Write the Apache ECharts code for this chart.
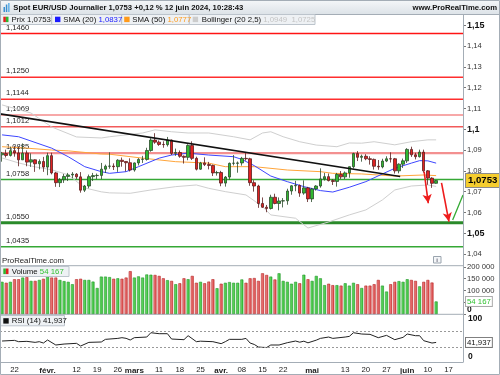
<!DOCTYPE html>
<html><head><meta charset="utf-8">
<script src="https://cdn.jsdelivr.net/npm/echarts@6/dist/echarts.min.js"></script>
<style>html,body{margin:0;padding:0;background:#fff}#c{width:500px;height:375px}</style>
</head><body><div id="c"></div>
<script>
// ---------- data ----------
const dates = ['01-17','01-18','01-19','01-22','01-23','01-24','01-25','01-26','01-29','01-30','01-31',
'02-01','02-02','02-05','02-06','02-07','02-08','02-09','02-12','02-13','02-14','02-15','02-16','02-19','02-20','02-21','02-22','02-23','02-26','02-27','02-28','02-29',
'03-01','03-04','03-05','03-06','03-07','03-08','03-11','03-12','03-13','03-14','03-15','03-18','03-19','03-20','03-21','03-22','03-25','03-26','03-27','03-28','03-29',
'04-01','04-02','04-03','04-04','04-05','04-08','04-09','04-10','04-11','04-12','04-15','04-16','04-17','04-18','04-19','04-22','04-23','04-24','04-25','04-26','04-29','04-30',
'05-01','05-02','05-03','05-06','05-07','05-08','05-09','05-10','05-13','05-14','05-15','05-16','05-17','05-20','05-21','05-22','05-23','05-24','05-27','05-28','05-29','05-30','05-31',
'06-03','06-04','06-05','06-06','06-07','06-10','06-11','06-12','06-13','06-14','06-17','06-18','06-19','06-20'];

const tickLabels = [['01-22','22'],['02-01','févr.'],['02-12','12'],['02-19','19'],['02-26','26'],['03-01','mars'],['03-11','11'],['03-18','18'],['03-25','25'],['04-01','avr.'],['04-08','08'],['04-15','15'],['04-22','22'],['05-01','mai'],['05-13','13'],['05-20','20'],['05-27','27'],['06-03','juin'],['06-10','10'],['06-17','17']];

// [open, close, low, high]
const ohlc = [
[1.0877,1.0885,1.0844,1.0891],[1.0883,1.0874,1.0864,1.0902],[1.0874,1.0897,1.0869,1.0916],[1.0897,1.0886,1.0868,1.0920],[1.0886,1.0853,1.0822,1.0915],
[1.0853,1.0885,1.0852,1.0932],[1.0885,1.0842,1.0822,1.0898],[1.0842,1.0853,1.0819,1.0884],[1.0853,1.0834,1.0795,1.0855],[1.0834,1.0845,1.0807,1.0855],
[1.0845,1.0818,1.0795,1.0867],[1.0818,1.0873,1.0779,1.0887],[1.0873,1.0790,1.0783,1.0887],[1.0790,1.0743,1.0723,1.0795],[1.0743,1.0757,1.0722,1.0765],
[1.0757,1.0773,1.0742,1.0785],[1.0773,1.0780,1.0751,1.0790],[1.0780,1.0784,1.0764,1.0794],[1.0784,1.0771,1.0761,1.0789],[1.0771,1.0707,1.0695,1.0794],
[1.0707,1.0727,1.0698,1.0732],[1.0727,1.0772,1.0716,1.0782],[1.0772,1.0777,1.0751,1.0790],[1.0777,1.0778,1.0760,1.0787],[1.0778,1.0808,1.0760,1.0838],
[1.0808,1.0822,1.0790,1.0830],[1.0822,1.0823,1.0810,1.0889],[1.0823,1.0820,1.0804,1.0836],[1.0820,1.0851,1.0795,1.0856],[1.0851,1.0845,1.0820,1.0864],
[1.0845,1.0839,1.0797,1.0845],[1.0839,1.0804,1.0797,1.0860],[1.0804,1.0838,1.0796,1.0840],[1.0838,1.0855,1.0826,1.0861],[1.0855,1.0856,1.0838,1.0872],
[1.0855,1.0898,1.0849,1.0911],[1.0898,1.0948,1.0892,1.0957],[1.0948,1.0938,1.0930,1.0981],[1.0938,1.0927,1.0920,1.0946],[1.0927,1.0926,1.0911,1.0942],
[1.0926,1.0948,1.0917,1.0963],[1.0948,1.0884,1.0876,1.0950],[1.0884,1.0888,1.0872,1.0907],[1.0888,1.0870,1.0863,1.0898],[1.0870,1.0865,1.0835,1.0874],
[1.0865,1.0922,1.0851,1.0928],[1.0922,1.0860,1.0852,1.0942],[1.0860,1.0808,1.0802,1.0868],[1.0808,1.0838,1.0805,1.0843],[1.0838,1.0830,1.0823,1.0865],
[1.0830,1.0826,1.0807,1.0843],[1.0826,1.0790,1.0775,1.0830],[1.0790,1.0792,1.0777,1.0800],[1.0792,1.0741,1.0726,1.0800],[1.0741,1.0770,1.0724,1.0775],
[1.0770,1.0836,1.0757,1.0840],[1.0836,1.0837,1.0826,1.0876],[1.0836,1.0838,1.0791,1.0845],[1.0838,1.0860,1.0825,1.0867],[1.0860,1.0858,1.0849,1.0885],
[1.0858,1.0743,1.0728,1.0863],[1.0743,1.0727,1.0700,1.0755],[1.0727,1.0643,1.0622,1.0733],[1.0643,1.0625,1.0622,1.0672],[1.0625,1.0619,1.0601,1.0636],
[1.0619,1.0673,1.0614,1.0685],[1.0673,1.0643,1.0639,1.0690],[1.0643,1.0655,1.0610,1.0672],[1.0655,1.0656,1.0624,1.0669],[1.0656,1.0703,1.0637,1.0714],
[1.0703,1.0728,1.0685,1.0731],[1.0728,1.0730,1.0702,1.0752],[1.0730,1.0693,1.0675,1.0734],[1.0693,1.0718,1.0685,1.0754],[1.0718,1.0665,1.0650,1.0723],
[1.0665,1.0713,1.0650,1.0718],[1.0713,1.0727,1.0705,1.0731],[1.0727,1.0761,1.0719,1.0812],[1.0761,1.0772,1.0753,1.0790],[1.0772,1.0753,1.0749,1.0787],
[1.0753,1.0749,1.0732,1.0760],[1.0749,1.0783,1.0724,1.0790],[1.0783,1.0771,1.0761,1.0799],[1.0771,1.0790,1.0760,1.0797],[1.0790,1.0820,1.0767,1.0821],
[1.0820,1.0883,1.0811,1.0887],[1.0883,1.0865,1.0847,1.0895],[1.0865,1.0870,1.0844,1.0878],[1.0870,1.0858,1.0851,1.0880],[1.0858,1.0855,1.0830,1.0870],
[1.0855,1.0822,1.0806,1.0859],[1.0822,1.0819,1.0805,1.0852],[1.0819,1.0847,1.0812,1.0858],[1.0847,1.0858,1.0842,1.0870],[1.0858,1.0857,1.0840,1.0889],
[1.0858,1.0800,1.0787,1.0862],[1.0800,1.0832,1.0788,1.0836],[1.0832,1.0848,1.0814,1.0859],[1.0848,1.0903,1.0838,1.0909],[1.0903,1.0877,1.0867,1.0916],
[1.0877,1.0868,1.0855,1.0887],[1.0868,1.0890,1.0864,1.0902],[1.0890,1.0800,1.0791,1.0902],[1.0800,1.0765,1.0733,1.0804],[1.0765,1.0740,1.0718,1.0769],
[1.0740,1.0753,1.0738,1.0756]];

// volume in thousands
const volume = [137,133,137,148,148,155,157,141,141,145,150,160,155,155,145,140,137,127,148,150,145,145,138,111,159,159,157,150,152,150,
155,182,155,160,155,168,167,166,162,152,144,141,127,131,152,148,162,133,137,131,138,148,110,129,133,136,133,133,147,133,
152,153,141,173,166,159,147,173,141,137,129,137,131,167,148,141,162,152,123,129,123,123,121,131,121,133,127,111,121,121,
127,145,121,96,127,137,140,137,148,145,141,118,137,145,134,54.167];

// [day index, value]
const sma20 = [[0,1.0973],[4,1.0964],[12,1.0909],[16,1.0868],[20,1.0820],[24,1.0796],[26,1.0788],[30,1.0796],[33,1.0820],[38,1.0861],[41,1.0876],[45,1.0885],[50,1.0876],[56,1.0868],[58,1.0855],[61,1.0825],[65,1.0775],[69,1.0748],[73,1.0724],[77,1.0705],[80,1.0698],[84,1.0721],[88,1.0748],[92,1.0785],[95,1.0812],[99,1.0837],[101,1.0849],[103,1.0848],[105,1.0837]];
const sma50 = [[0,1.0916],[6,1.0909],[12,1.0900],[16,1.0896],[24,1.0881],[26,1.0880],[34,1.0861],[42,1.0844],[50,1.0837],[54,1.0820],[61,1.0820],[69,1.0804],[77,1.0796],[80,1.0788],[87,1.0785],[95,1.0775],[102,1.0780],[105,1.0777]];
const bbUpper = [[0,1.1117],[7,1.1078],[12,1.1011],[18,1.0963],[24,1.0958],[26,1.0964],[30,1.0973],[34,1.0982],[37,1.0997],[41,1.0988],[45,1.0982],[50,1.0982],[56,1.0964],[60,1.0949],[63,1.0982],[65,1.0988],[68,1.0964],[72,1.0940],[76,1.0924],[81,1.0916],[84,1.0934],[87,1.0933],[90,1.0940],[95,1.0925],[99,1.0940],[103,1.0949],[105,1.0949]];
const bbLower = [[0,1.0862],[4,1.0838],[8,1.0819],[12,1.0805],[16,1.0781],[20,1.0718],[24,1.0699],[26,1.0694],[31,1.0692],[36,1.0708],[42,1.0724],[47,1.0732],[50,1.0716],[54,1.0700],[59,1.0684],[63,1.0628],[65,1.0588],[71,1.0572],[74,1.0525],[79,1.0554],[84,1.0588],[88,1.0612],[92,1.0660],[95,1.0708],[99,1.0727],[103,1.0732],[105,1.0725]];
const rsi = [[0,45.4],[3,47.0],[4,43.8],[6,44.6],[8,42.1],[9,43.8],[10,40.5],[11,47.9],[13,35.6],[15,38.0],[18,39.7],[19,33.1],[21,42.1],[24,43.0],[25,49.5],[28,51.9],[29,53.6],[30,52.0],[31,47.9],[32,53.6],[35,55.2],[36,65.8],[38,63.4],[40,63.4],[41,50.3],[44,48.7],[45,58.5],[47,43.8],[48,45.0],[51,43.8],[53,38.9],[54,43.8],[55,49.5],[58,49.5],[59,51.9],[60,40.5],[61,37.0],[62,30.7],[63,29.9],[64,29.5],[65,35.6],[67,35.6],[69,41.3],[71,45.4],[72,42.5],[73,45.0],[74,41.0],[76,47.5],[77,51.9],[79,55.2],[80,51.9],[83,55.2],[84,56.8],[85,65.8],[87,62.6],[89,61.8],[91,53.6],[93,59.3],[95,48.7],[97,54.4],[98,62.6],[100,58.5],[101,58.5],[102,46.2],[104,40.5],[105,41.937]];

// horizontal levels [value, label, colour, width]
const levels = [[1.1460,'1,1460','#ff1414',1.5],[1.1250,'1,1250','#ff2e2e',1.4],[1.1144,'1,1144','#ff2e2e',1.4],[1.1069,'1,1069','#f7a8a8',2],[1.1012,'1,1012','#f25a5a',1.4],[1.0885,'1,0885','#f39090',2.2],[1.0758,'1,0758','#35a835',1.4],[1.0550,'1,0550','#2a8a2a',3],[1.0435,'1,0435','#35a835',1.4]];
// trend line [dayIndex, price]
const trendLine = [[-0.5,1.1074],[96.3,1.0773]];
// drawn arrows [[x1,y1],[x2,y2]]
const redArrows = [[[102.1,1.0796],[103.1,1.0644]],[[106.3,1.0742],[108.1,1.0556]]];
const greenLine = [[109.0,1.0564],[111.5,1.0684]];

const lastPrice = 1.0753, lastVolume = 54.167, lastRsi = 41.937;

// ---------- chart ----------
const FONT = '"Liberation Sans", Arial, sans-serif';
const labelMap = {}; tickLabels.forEach(t => labelMap[t[0]] = t[1]);
const volData = volume.map((v, i) => {
  const up = ohlc[i][1] >= ohlc[i][0];
  return {value: v, itemStyle: up ?
    {color: new echarts.graphic.LinearGradient(0,0,1,0,[{offset:0,color:'#7ce67c'},{offset:1,color:'#2cb82c'}]), borderColor:'#22982a', borderWidth:0.6} :
    {color: new echarts.graphic.LinearGradient(0,0,1,0,[{offset:0,color:'#f29a9a'},{offset:1,color:'#d83a3a'}]), borderColor:'#b82828', borderWidth:0.6}};
});
const fmtPrice = v => { const s = (+v.toFixed(2)).toString().replace('.', ','); return Math.round(v*100) % 5 === 0 ? '{b|' + s + '}' : s; };

const chart = echarts.init(document.getElementById('c'), null, {renderer: 'canvas'});
const txt = (x, y, text, extra) => ({type:'text', z:100, style: Object.assign({x, y, text, fill:'#111', font:'7.8px ' + FONT, verticalAlign:'middle'}, extra || {})});
const rect = (x, y, w, h, fill, stroke) => ({type:'rect', z:99, shape:{x, y, width:w, height:h}, style:{fill, stroke: stroke || null, lineWidth: stroke ? 1 : 0}});
const hline = (x1, x2, y, c) => ({type:'line', z:98, shape:{x1, y1:y, x2, y2:y}, style:{stroke:c, lineWidth:1}});
const CLEAR = 'rgba(0,0,0,0)';

const graphic = [
  rect(0, 0, 500, 14, new echarts.graphic.LinearGradient(0,0,0,1,[{offset:0,color:'#f5f7f9'},{offset:1,color:'#dde3e8'}])),
  hline(0, 500, 14.5, '#a4adb6'),
  rect(3.5, 7, 1.5, 5, '#3a8fd0'), rect(5.8, 4.5, 1.5, 7.5, '#3a8fd0'), rect(8.1, 3, 1.5, 9, '#5fb0e8'),
  txt(13.3, 7.5, 'Spot EUR/USD Journalier 1,0753 +0,12 % 12 juin 2024, 10:28:43', {font:'bold 7.7px ' + FONT}),
  txt(497, 7.5, 'www.ProRealTime.com', {font:'bold 7.7px ' + FONT, align:'right'}),
  // legend boxes
  rect(0.5, 14.5, 51.2, 10, '#eef1f4', '#bcc4cc'),
  rect(3.3, 16.7, 2.6, 5.4, '#e02020'), rect(5.9, 16.7, 2.6, 5.4, '#2fb52f'),
  txt(11.5, 19.7, 'Prix 1,0753'),
  rect(51.7, 14.5, 70, 10, '#eef1f4', '#bcc4cc'),
  rect(55, 16.7, 5.4, 5.4, '#1a1aff'),
  txt(63.3, 19.7, 'SMA (20) {v|1,0837}', {rich:{v:{fill:'#1a1aff', font:'7.8px ' + FONT}}}),
  rect(121.7, 14.5, 67.6, 10, '#eef1f4', '#bcc4cc'),
  rect(124.2, 16.7, 5.4, 5.4, '#ff9a1a'),
  txt(132.3, 19.7, 'SMA (50) {v|1,0777}', {rich:{v:{fill:'#ff9a1a', font:'7.8px ' + FONT}}}),
  rect(189.3, 14.5, 125.7, 10, '#eef1f4', '#bcc4cc'),
  rect(192.7, 16.7, 5.4, 5.4, '#cccccc'),
  txt(201.7, 19.7, 'Bollinger (20 2,5) {v|1,0949  1,0725}', {rich:{v:{fill:'#c4c4c4', font:'7.8px ' + FONT}}}),
  // watermark + info
  txt(2, 261.3, 'ProRealTime.com', {fill:'#222'}),
  rect(433.5, 256.5, 7.5, 6.5, '#f4f6f8', '#9aa4ae'),
  txt(437.2, 259.9, 'i', {align:'center', font:'bold 6px ' + FONT, fill:'#667'}),
  // panel separators
  hline(0, 463, 265.7, '#a4adb6'),
  hline(0, 463, 314.3, '#a4adb6'),
  {type:'line', z:98, shape:{x1:463.5, y1:14, x2:463.5, y2:362.3}, style:{stroke:'#a4adb6', lineWidth:1}},
  // volume legend
  rect(0.5, 266.5, 68.5, 10, '#eef1f4', '#bcc4cc'),
  rect(3.3, 268.5, 2.6, 5.6, '#2fb52f'), rect(5.9, 268.5, 2.6, 5.6, '#e02020'),
  txt(11.7, 271.6, 'Volume {v|54 167}', {rich:{v:{fill:'#33c233', font:'7.8px ' + FONT}}}),
  // rsi legend
  rect(0.5, 315.5, 64, 10.3, '#eef1f4', '#bcc4cc'),
  rect(3.3, 318.2, 5.4, 5.4, '#111111'),
  txt(11.7, 320.8, 'RSI (14) 41,937'),
  // outer frame
  {type:'rect', z:101, shape:{x:0.5, y:0.5, width:499, height:374}, style:{fill:null, stroke:'#a4adb6', lineWidth:1}}
];

// level lines as series on the value x-axis, label on the first point
const levelSeries = levels.map(l => ({
  type:'line', xAxisIndex:1, yAxisIndex:0, z:1, silent:true, symbol:'circle', symbolSize:0.01, showSymbol:true,
  itemStyle:{color:CLEAR}, lineStyle:{color:l[2], width:l[3]},
  data:[{value:[-0.5, l[0]], label:{show:true, position:'right', offset:[1,-6], formatter:l[1], color:'#222', fontSize:7.6, fontFamily:FONT}}, [111.5, l[0]]]
}));

const axisBase = {axisLine:{show:false, onZero:false}, axisTick:{show:false}, axisLabel:{show:false}, splitLine:{show:false}};
const option = {
  animation: false,
  backgroundColor: '#ffffff',
  textStyle: {fontFamily: FONT},
  grid: [
    {left:0, top:14, width:463, height:251, outerBoundsMode:'none', containLabel:false},
    {left:0, top:265.7, width:463, height:48.6, outerBoundsMode:'none', containLabel:false},
    {left:0, top:318.8, width:463, height:40.7, outerBoundsMode:'none', containLabel:false}
  ],
  xAxis: [
    Object.assign({type:'category', gridIndex:0, data:dates, boundaryGap:true}, axisBase),
    Object.assign({type:'value', gridIndex:0, min:-0.5, max:111.5}, axisBase),
    Object.assign({type:'category', gridIndex:1, data:dates, boundaryGap:true}, axisBase),
    {type:'category', gridIndex:2, data:dates, boundaryGap:true, offset:2.8,
      axisLine:{show:true, onZero:false, lineStyle:{color:'#a4adb6', width:1}},
      axisTick:{show:false},
      splitLine:{show:false},
      axisLabel:{show:true, interval:(i, v) => labelMap[v] !== undefined, margin:4, color:'#222', fontSize:7.8, fontFamily:FONT,
        formatter: v => { const l = labelMap[v]; if (l === undefined) return ''; return /\d/.test(l) ? l : '{m|' + l + '}'; },
        rich:{m:{fontWeight:'bold', fontSize:8, color:'#222', fontFamily:FONT}}}}
  ],
  yAxis: [
    {type:'value', gridIndex:0, position:'right', min:1.03471, max:1.15543, splitNumber:12,
      axisLine:{show:false, onZero:false}, splitLine:{show:false},
      axisTick:{show:true, length:3, lineStyle:{color:'#777'}},
      axisLabel:{show:true, showMinLabel:false, showMaxLabel:false, margin:4, color:'#333', fontSize:7.6, fontFamily:FONT, formatter: fmtPrice,
        rich:{b:{fontWeight:'bold', fontSize:9, color:'#111', fontFamily:FONT}}}},
    {type:'value', gridIndex:1, position:'right', min:0, max:205, interval:50,
      axisLine:{show:false, onZero:false}, splitLine:{show:false},
      axisTick:{show:true, length:3, lineStyle:{color:'#777'}},
      axisLabel:{show:true, showMaxLabel:false, margin:4, color:'#333', fontSize:7.6, fontFamily:FONT,
        formatter: v => v === 0 ? '{z|0}' : (v === 50 ? '' : v + ' 000'),
        rich:{z:{fontWeight:'bold', fontSize:8.5, color:'#111', padding:[0,0,9,0], fontFamily:FONT}}}},
    {type:'value', gridIndex:2, position:'right', min:0, max:100, interval:50,
      axisLine:{show:false, onZero:false}, splitLine:{show:false},
      axisTick:{show:false},
      axisLabel:{show:true, margin:5, color:'#111', fontSize:8.5, fontFamily:FONT,
        formatter: v => v === 100 ? '{b|100}' : (v === 0 ? '{z|0}' : ''),
        rich:{b:{fontWeight:'bold', fontSize:8.5, color:'#111', fontFamily:FONT}, z:{fontWeight:'bold', fontSize:8.5, color:'#111', padding:[0,0,5,0], fontFamily:FONT}}}}
  ],
  graphic: graphic,
  series: levelSeries.concat([
    {type:'line', name:'BB upper', xAxisIndex:0, yAxisIndex:0, data:bbUpper, symbol:'none', z:2, silent:true, lineStyle:{color:'#cfcfcf', width:1}},
    {type:'line', name:'BB lower', xAxisIndex:0, yAxisIndex:0, data:bbLower, symbol:'none', z:2, silent:true, lineStyle:{color:'#cfcfcf', width:1}},
    {type:'line', name:'SMA50', xAxisIndex:0, yAxisIndex:0, data:sma50, symbol:'none', z:2, silent:true, lineStyle:{color:'#ffa53a', width:1}},
    {type:'line', name:'SMA20', xAxisIndex:0, yAxisIndex:0, data:sma20, symbol:'none', z:2, silent:true, lineStyle:{color:'#3d46ff', width:1}},
    {type:'candlestick', name:'Prix', xAxisIndex:0, yAxisIndex:0, data:ohlc, z:3, barWidth:3,
      itemStyle:{color:'#30b830', color0:'#e02222', borderColor:'#2b4a2b', borderColor0:'#5a1e1e', borderWidth:0.8},
      markLine:{silent:true, symbol:['none','none'], animation:false, precision:5,
        data:[{yAxis:lastPrice, lineStyle:{color:CLEAR, width:0}, label:{show:true, position:'end', distance:3, formatter:'1,0753', backgroundColor:'#f5cd2e', borderColor:'#8a8a8a', borderWidth:1, padding:[2,2,1,2], color:'#000', fontWeight:'bold', fontSize:9.6, fontFamily:FONT}}]}},
    {type:'line', name:'Trend', xAxisIndex:1, yAxisIndex:0, data:trendLine, symbol:'none', z:4, silent:true, lineStyle:{color:'#111', width:1.6},
      markLine:{silent:true, animation:false, precision:5, symbol:['none','arrow'], symbolSize:[7,9],
        lineStyle:{type:'solid', color:'#ee1c1c', width:1.6},
        data: redArrows.map(a => [{coord:a[0]}, {coord:a[1]}]).concat([[{coord:greenLine[0], symbol:'none', lineStyle:{color:'#33aa33', width:1.3, type:'solid'}}, {coord:greenLine[1], symbol:'none'}]]),
        label:{show:false}}},
    {type:'bar', name:'Volume', xAxisIndex:2, yAxisIndex:1, data:volData, barWidth:3, silent:true,
      markLine:{silent:true, symbol:['none','none'], animation:false, precision:5,
        data:[{yAxis:lastVolume, lineStyle:{color:CLEAR, width:0}, label:{show:true, position:'end', distance:3, formatter:'54 167', backgroundColor:'#fff', borderColor:'#aaa', borderWidth:1, padding:[1,1,0,1], color:'#33c233', fontSize:7.8, fontFamily:FONT}}]}},
    {type:'line', name:'RSI', xAxisIndex:3, yAxisIndex:2, data:rsi, symbol:'none', silent:true, lineStyle:{color:'#222', width:1},
      markLine:{silent:true, symbol:['none','none'], animation:false, precision:5,
        data:[{yAxis:70, lineStyle:{color:'#999', type:[2,2], width:1}, label:{show:false}},
              {yAxis:30, lineStyle:{color:'#999', type:[2,2], width:1}, label:{show:false}},
              {yAxis:lastRsi, lineStyle:{color:CLEAR, width:0}, label:{show:true, position:'end', distance:3, formatter:'41,937', backgroundColor:'#fff', borderColor:'#777', borderWidth:1, padding:[1,1,0,1], color:'#111', fontSize:7.8, fontFamily:FONT}}]}}
  ])
};
chart.setOption(option);
</script>
</body></html>
